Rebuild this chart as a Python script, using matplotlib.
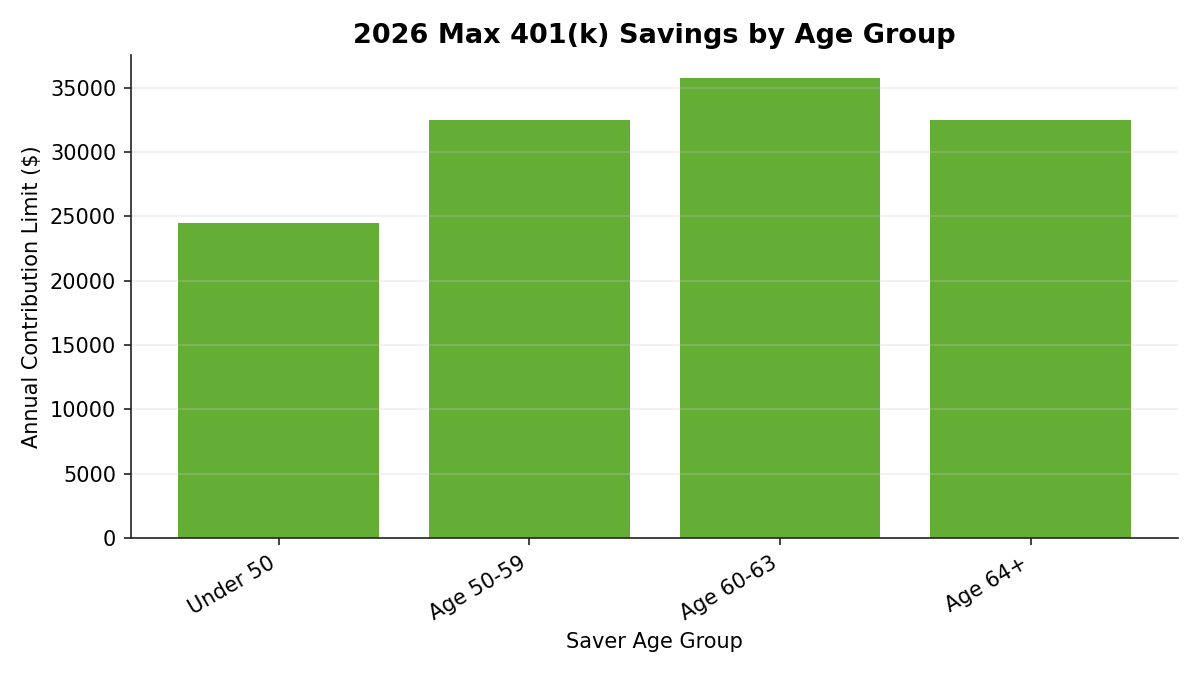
import matplotlib
matplotlib.use("Agg")
import matplotlib.pyplot as plt

categories = ["Under 50", "Age 50-59", "Age 60-63", "Age 64+"]
limits = [24500, 32500, 35750, 32500]

fig, ax = plt.subplots(figsize=(8, 4.5), dpi=150)
ax.bar(categories, limits, color="#64ae35", width=0.8, zorder=1)
ax.set_axisbelow(False)
ax.yaxis.grid(True, color="#cccccc", alpha=0.3, linewidth=0.8)
ax.spines["top"].set_visible(False)
ax.spines["right"].set_visible(False)
for s in ("left", "bottom"):
    ax.spines[s].set_color("#222222")
    ax.spines[s].set_zorder(3)
ax.tick_params(axis="both", labelsize=10, color="#222222")
ax.set_title("2026 Max 401(k) Savings by Age Group", fontsize=13, fontweight="bold")
ax.set_xlabel("Saver Age Group", fontsize=10)
ax.set_ylabel("Annual Contribution Limit ($)", fontsize=10)
plt.setp(ax.get_xticklabels(), rotation=30, ha="right")
fig.subplots_adjust(left=0.109, right=0.982, top=0.9185, bottom=0.203)
fig.savefig("out.png", dpi=150)
